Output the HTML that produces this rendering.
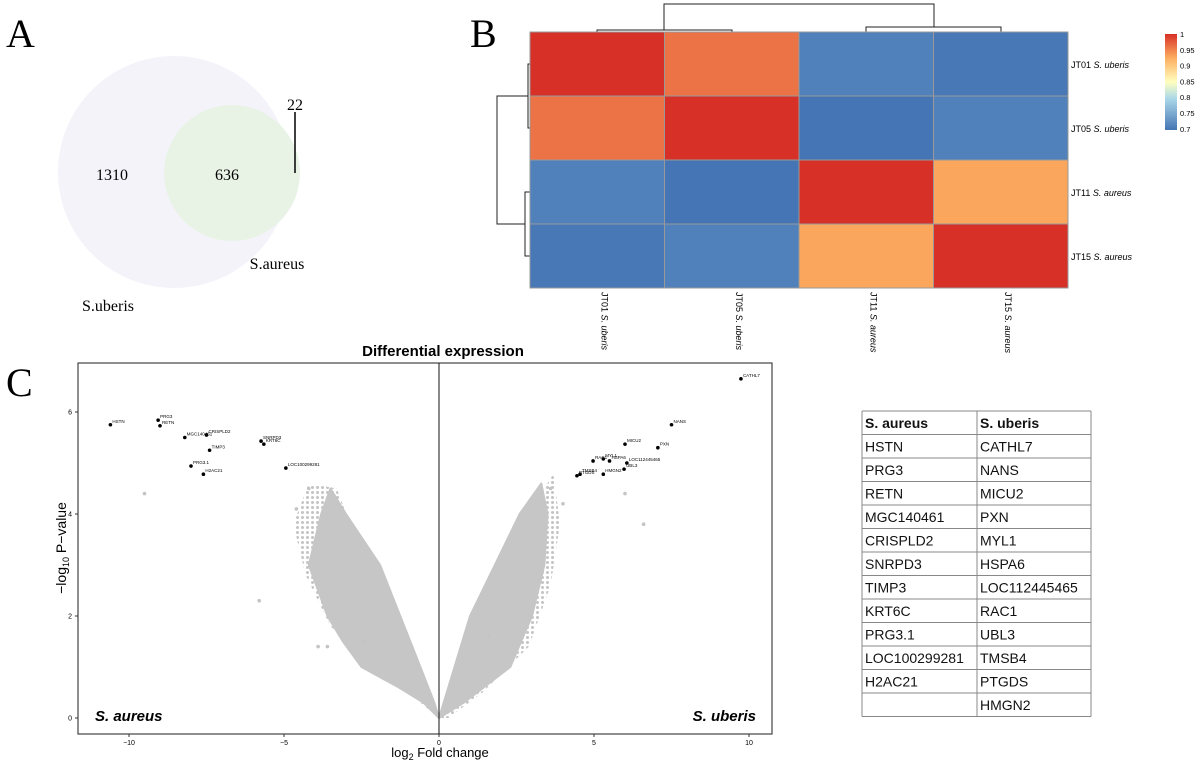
<!DOCTYPE html>
<html><head><meta charset="utf-8"><style>
body{margin:0;background:#fff;width:1200px;height:766px;overflow:hidden;font-family:"Liberation Sans",sans-serif}
svg{position:absolute;left:0;top:0}
</style></head><body>
<svg id="fig" width="1200" height="766" viewBox="0 0 1200 766">
 <defs>
  <linearGradient id="cb" x1="0" y1="1" x2="0" y2="0">
   <stop offset="0" stop-color="#4575b4"/><stop offset="0.33" stop-color="#abd9e9"/><stop offset="0.5" stop-color="#ffffbf"/><stop offset="0.75" stop-color="#fdae61"/><stop offset="1" stop-color="#d73027"/></linearGradient>
  <pattern id="dots" width="5" height="5" patternUnits="userSpaceOnUse"><circle cx="2.5" cy="2.5" r="1.5" fill="#c4c4c4"/></pattern>
 </defs>
 <!-- Panel A -->
 <g>
  <text x="6" y="47" font-family="Liberation Serif,serif" font-size="40">A</text>
  <circle cx="174" cy="172" r="116" fill="#f4f3fa"/>
  <circle cx="232" cy="173" r="68" fill="#e8f3e6"/>
  <text x="112" y="180" font-family="Liberation Serif,serif" font-size="16" text-anchor="middle">1310</text>
  <text x="227" y="180" font-family="Liberation Serif,serif" font-size="16" text-anchor="middle">636</text>
  <text x="295" y="110" font-family="Liberation Serif,serif" font-size="16" text-anchor="middle">22</text>
  <line x1="295" y1="112" x2="295" y2="173" stroke="#000" stroke-width="1.5"/>
  <text x="277" y="269" font-family="Liberation Serif,serif" font-size="16" text-anchor="middle">S.aureus</text>
  <text x="108" y="311" font-family="Liberation Serif,serif" font-size="16" text-anchor="middle">S.uberis</text>
 </g>
 <!-- Panel B -->
 <g id="heat">
  <text x="470" y="47" font-family="Liberation Serif,serif" font-size="40">B</text>
  <g fill="none" stroke="#222" stroke-width="1">
   <path d="M597,32V30H732V32"/><path d="M866,32V27H1001V32"/><path d="M664,30V4H934V27"/>
  </g>
  <g fill="none" stroke="#222" stroke-width="1">
   <path d="M530,64H528V128H530"/><path d="M530,192H525V256H530"/><path d="M528,96H497V224H525"/>
  </g>
  <rect x="1165" y="34" width="12" height="96" fill="url(#cb)"/>
 </g>
 <!-- Panel C -->
 <g id="volc">
  <text x="6" y="396" font-family="Liberation Serif,serif" font-size="40">C</text>
  <text x="443" y="356" font-size="15" font-weight="bold" text-anchor="middle">Differential expression</text>
  <rect x="78" y="363" width="694" height="371" fill="none" stroke="#444" stroke-width="1.2"/>
  <text x="440" y="757" font-size="13" text-anchor="middle">log<tspan font-size="9" dy="3">2</tspan><tspan dy="-3"> Fold change</tspan></text>
  <text transform="translate(66,548) rotate(-90)" font-size="14" text-anchor="middle">−log<tspan font-size="9" dy="3">10</tspan><tspan dy="-3"> P−value</tspan></text>
  <text x="95" y="721" font-size="15" font-weight="bold" font-style="italic">S. aureus</text>
  <text x="756" y="721" font-size="15" font-weight="bold" font-style="italic" text-anchor="end">S. uberis</text>
 </g>
 <!-- Table -->
 <g id="tbl"></g>
</svg>
<script>
const NS='http://www.w3.org/2000/svg';
function mk(parent,tag,attrs){const e=document.createElementNS(NS,tag);for(const k in attrs)e.setAttribute(k,attrs[k]);parent.appendChild(e);return e;}

// ---------- Heatmap data ----------
const samples=['JT01','JT05','JT11','JT15'];
const species=['S. uberis','S. uberis','S. aureus','S. aureus'];
const corr=[[1,0.96,0.712,0.703],[0.96,1,0.70,0.712],[0.712,0.70,1,0.93],[0.703,0.712,0.93,1]];
const cbTicks=['1','0.95','0.9','0.85','0.8','0.75','0.7'];
const heat=document.getElementById('heat');
const hx0=530,hy0=32,cw=134.5,rh=64;
function colorOf(v){const t=Math.max(0,Math.min(1,(v-0.7)/0.3));
 const st=[[0,[69,117,180]],[0.33,[171,217,233]],[0.5,[255,255,191]],[0.75,[253,174,97]],[1,[215,48,39]]];
 for(let i=1;i<st.length;i++){if(t<=st[i][0]){const a=st[i-1],b=st[i];const f=(t-a[0])/(b[0]-a[0]);return 'rgb('+a[1].map((c,j)=>Math.round(c+(b[1][j]-c)*f)).join(',')+')';}}return 'rgb(215,48,39)';}
for(let r=0;r<4;r++)for(let c=0;c<4;c++){
 const e=mk(heat,'rect',{x:hx0+c*cw,y:hy0+r*rh,width:cw,height:rh,fill:colorOf(corr[r][c]),stroke:'#999','stroke-width':1});
 
 
}
for(let i=0;i<4;i++){
 const t=mk(heat,'text',{x:1071,y:hy0+i*rh+36,'font-size':9});
 t.innerHTML=samples[i]+' <tspan font-style="italic">'+species[i]+'</tspan>';
 
 
 const cx=hx0+i*cw+cw/2+4;
 const t2=mk(heat,'text',{transform:'translate('+cx+',292) rotate(90)','font-size':9});
 t2.innerHTML=samples[i]+' <tspan font-style="italic">'+species[i]+'</tspan>';
 
 
}
cbTicks.forEach((s,i)=>{const t=mk(heat,'text',{x:1180,y:37+i*15.8,'font-size':7.5});t.textContent=s;
 
 });

// ---------- Volcano data ----------
const xTicks=[-10,-5,0,5,10];
const yTicks=[0,2,4,6];
const geneNames=['HSTN','PRG3','RETN','MGC140461','CRISPLD2','TIMP3','SNRPD3','KRT6C','PRG3.1','H2AC21','LOC100299281','CATHL7','NANS','MICU2','PXN','MYL1','RAC1','HSPA6','LOC112445465','UBL3','TMSB4','PTGDS','HMGN2'];
const geneFC=[-10.6,-9.06,-9.0,-8.2,-7.5,-7.4,-5.74,-5.65,-8.0,-7.6,-4.94,9.74,7.5,6.0,7.06,5.3,4.97,5.5,6.06,5.97,4.55,4.45,5.3];
const geneP=[5.75,5.84,5.73,5.5,5.55,5.25,5.43,5.37,4.94,4.78,4.9,6.65,5.75,5.37,5.3,5.08,5.04,5.04,5.0,4.88,4.78,4.75,4.78];
// envelope of dense non-significant cloud (fold change, -log10 p)
const leftCloudFC=[0,-0.5,-1.3,-2.5,-3.1,-3.6,-4.2,-3.8,-3.5,-3.0,-1.9,-1.25,-0.6,-0.15,0];
const leftCloudP=[0,0.3,0.6,1.0,1.5,2.0,3.0,4.0,4.5,4.0,3.0,2.0,1.0,0.3,0];
const rightCloudFC=[0,0.15,0.5,1.0,1.8,2.6,3.3,3.5,3.4,3.0,2.3,0.8,0];
const rightCloudP=[0,0.3,1.0,2.0,3.0,4.0,4.6,4.0,3.0,2.0,1.0,0.3,0];
// halo (sparser fringe around cloud)
const leftHaloFC=[0,-1.0,-2.4,-3.5,-4.3,-4.7,-4.2,-3.3,-2.6,-1.7,-0.8,-0.2];
const leftHaloP=[0,0.5,1.2,1.8,2.8,3.8,4.6,4.5,3.4,2.4,1.2,0.2];
const rightHaloFC=[0,0.2,0.9,1.5,2.3,3.2,3.7,3.9,3.6,2.9,1.4,0.3];
const rightHaloP=[0,0.3,1.2,2.2,3.2,4.3,4.8,3.8,2.6,1.4,0.5,0];
const outFC=[-9.5,-5.8,-4.2,-4.6,-3.9,-3.6,6.6,6.0,3.6,4.0,-2.4,1.6];
const outP=[4.4,2.3,4.5,4.1,1.4,1.4,3.8,4.4,4.5,4.2,1.5,1.6];
const volc=document.getElementById('volc');
const X=v=>439+v*31, Y=v=>718-v*51;
xTicks.forEach(v=>{const l=mk(volc,'line',{x1:X(v),x2:X(v),y1:734,y2:737,stroke:'#333'});
 
 
 const t=mk(volc,'text',{x:X(v),y:745,'font-size':7,'text-anchor':'middle'});t.textContent=v<0?'−'+(-v):v;
 
 });
yTicks.forEach(v=>{const l=mk(volc,'line',{x1:75,x2:78,y1:Y(v),y2:Y(v),stroke:'#333'});
 
 
 const t=mk(volc,'text',{x:72,y:Y(v)+2.5,'font-size':7,'text-anchor':'end'});t.textContent=v;
 
 });
function cloud(fc,p,name,fill){const pts=fc.map((v,i)=>X(v)+','+Y(p[i])).join(' ');
 const e=mk(volc,'polygon',{points:pts,fill:fill,stroke:fill=='#c6c6c6'?'#c6c6c6':'none','stroke-width':2,'stroke-linejoin':'round'});
 
 }
cloud(leftHaloFC,leftHaloP,'sparse-cloud-left','url(#dots)');
cloud(rightHaloFC,rightHaloP,'sparse-cloud-right','url(#dots)');
cloud(leftCloudFC,leftCloudP,'nonsignificant-cloud-left','#c6c6c6');
cloud(rightCloudFC,rightCloudP,'nonsignificant-cloud-right','#c6c6c6');
outFC.forEach((v,i)=>{const c=mk(volc,'circle',{cx:X(v),cy:Y(outP[i]),r:1.8,fill:'#c4c4c4'});
 
 });
const zl=mk(volc,'line',{x1:X(0),x2:X(0),y1:363,y2:734,stroke:'#111','stroke-width':1});


geneNames.forEach((n,i)=>{const c=mk(volc,'circle',{cx:X(geneFC[i]),cy:Y(geneP[i]),r:1.8,fill:'#000'});
 
 
 const t=mk(volc,'text',{x:X(geneFC[i])+2,y:Y(geneP[i])-2,'font-size':4.5});t.textContent=n;
 
 });

// ---------- Table ----------
const aureusGenes=['HSTN','PRG3','RETN','MGC140461','CRISPLD2','SNRPD3','TIMP3','KRT6C','PRG3.1','LOC100299281','H2AC21',''];
const uberisGenes=['CATHL7','NANS','MICU2','PXN','MYL1','HSPA6','LOC112445465','RAC1','UBL3','TMSB4','PTGDS','HMGN2'];
const tbl=document.getElementById('tbl');
const tx0=862,tx1=977,tx2=1091,ty0=411,trh=23.5;
const rows=[['S. aureus','S. uberis']].concat(aureusGenes.map((g,i)=>[g,uberisGenes[i]]));
rows.forEach((r,i)=>{
 [[tx0,r[0]],[tx1,r[1]]].forEach(([x,s])=>{const t=mk(tbl,'text',{x:x+3,y:ty0+i*trh+17,'font-size':14,fill:'#111','font-weight':i==0?'bold':'normal'});t.textContent=s;
  
  });
 const l=mk(tbl,'line',{x1:tx0,x2:tx2,y1:ty0+i*trh,y2:ty0+i*trh,stroke:'#888'});
 
 
});
const bottom=ty0+rows.length*trh;
[[tx0,tx0,ty0,bottom],[tx1,tx1,ty0,bottom],[tx2,tx2,ty0,bottom],[tx0,tx2,bottom,bottom]].forEach(a=>{
 const l=mk(tbl,'line',{x1:a[0],x2:a[1],y1:a[2],y2:a[3],stroke:'#888'});
 
 });
</script>
</body></html>
